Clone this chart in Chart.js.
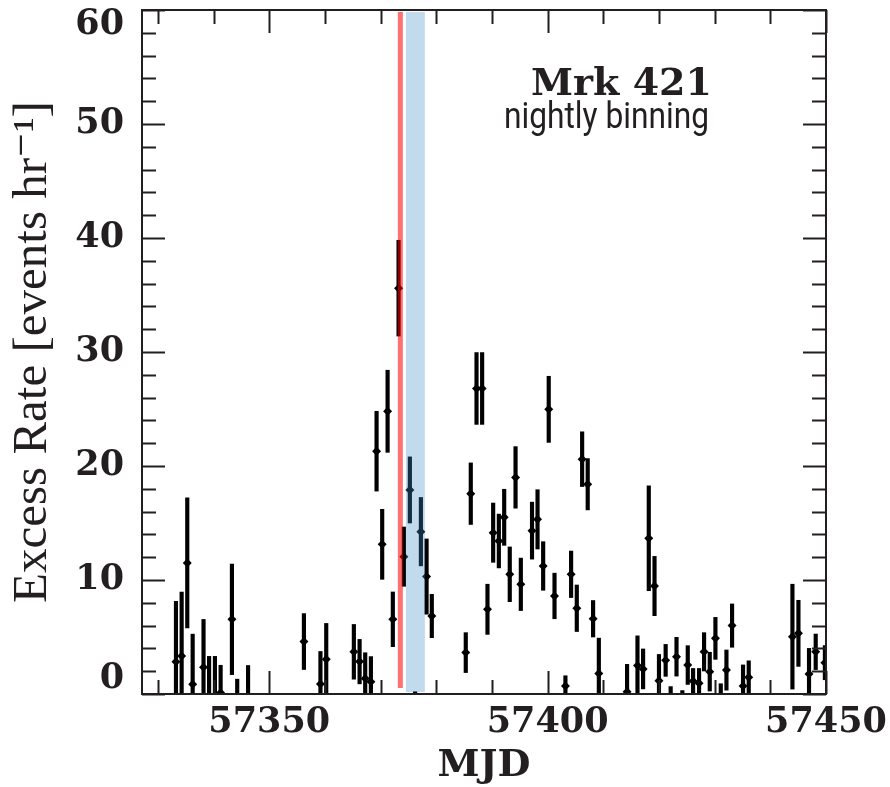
<!DOCTYPE html>
<html>
<head>
<meta charset="utf-8">
<script src="https://cdn.jsdelivr.net/npm/chart.js@4.4.1/dist/chart.umd.min.js"></script>
<style>
  html, body { margin: 0; padding: 0; background: #fff; }
  canvas { display: block; }
</style>
</head>
<body>
<canvas id="lc" width="890" height="787"></canvas>
<script>
// Nightly light curve values
const mjd = [
  57333.25, 57334.27, 57335.28, 57336.25, 57338.2, 57339.2, 57340.25, 57341.27, 57343.3, 57344.25,
  57346.2, 57356.23, 57359.2, 57360.24, 57365.2, 57366.23, 57367.24, 57368.26, 57369.28, 57370.29,
  57371.26, 57372.2, 57373.23, 57374.18, 57375.26, 57376.2, 57377.24, 57378.26, 57379.2, 57385.3,
  57386.2, 57387.23, 57388.24, 57389.2, 57390.22, 57391.24, 57392.2, 57393.2, 57394.24, 57395.19,
  57397.2, 57398.19, 57399.2, 57400.2, 57401.24, 57403.2, 57404.22, 57405.24, 57406.2, 57407.2,
  57408.17, 57409.2, 57414.27, 57416.14, 57417.15, 57418.17, 57419.2, 57420.0, 57421.2, 57422.1,
  57423.15, 57424.2, 57425.17, 57426.13, 57427.2, 57428.1, 57429.12, 57430.14, 57431.1, 57432.12,
  57433.13, 57435.1, 57436.12, 57443.97, 57445.05, 57446.95, 57448.15, 57449.8
];
const rate = [
  2.83, 3.33, 11.5, 0.85, 2.34, -1.0, -1.0, 0.12, 6.55, -1.5,
  -1.0, 4.6, 0.88, 3.04, 3.7, 2.84, 1.37, 1.08, 21.3, 13.13,
  24.8, 6.55, 35.6, 12.05, 17.9, -1.0, 14.24, 10.3, 6.84, 3.63,
  17.57, 26.8, 26.8, 7.43, 14.15, 13.42, 15.5, 10.5, 19.0, 9.62,
  14.33, 15.32, 11.23, 24.97, 8.6, 0.7, 10.5, 7.52, 20.6, 18.4,
  6.6, 1.8, 0.2, 2.5, 2.2, 13.66, 9.47, 1.17, 2.95, -0.8,
  3.27, -1.0, 2.54, 1.14, 0.94, 3.7, 1.96, 4.88, -0.5, 2.1,
  6.0, 0.7, 1.46, 5.03, 5.32, 1.75, 3.7, 2.75
];
const rateErr = [
  5.3, 5.6, 5.7, 4.4, 4.2, 4.3, 4.3, 2.4, 4.85, 2.8,
  3.5, 2.45, 2.85, 3.15, 2.4, 1.95, 2.25, 2.2, 3.5, 3.07,
  3.6, 2.4, 4.2, 2.6, 2.9, 1.2, 3.0, 3.3, 1.9, 1.75,
  2.7, 3.15, 3.15, 2.2, 2.6, 2.36, 2.46, 2.4, 2.7, 2.3,
  2.5, 2.6, 2.13, 2.9, 2.0, 0.9, 2.04, 2.04, 2.4, 2.25,
  1.6, 3.1, 2.4, 2.6, 1.75, 4.6, 2.6, 2.3, 1.4, 1.45,
  1.7, 1.3, 1.7, 1.1, 1.3, 1.68, 1.7, 1.84, 1.4, 1.76,
  1.9, 1.85, 1.45, 4.6, 2.9, 2.25, 1.56, 1.5
];

const xTickValues = [57350, 57400, 57450];
const yTickValues = [0, 10, 20, 30, 40, 50, 60];
const xRange = [57327.15, 57450];
const yRange = [0, 60];

// flare night (red) and follow-up window (blue)
const flareMjd = 57373.55;
const windowMjd = [57374.55, 57377.95];

const sourceLabel = 'Mrk 421';
const binLabel = 'nightly binning';

const ink = '#231f20';
const serif = "'DejaVu Serif', 'Liberation Serif', serif";
const romanSerif = "'Liberation Serif', 'DejaVu Serif', serif";

const points = mjd.map((m, i) => ({ x: m, y: rate[i] }));
const errBars = mjd.map((m, i) => ({ x: m, y: [rate[i] - rateErr[i], rate[i] + rateErr[i]] }));

// Frame, inward ticks, highlight bands and the text box
const decorations = {
  id: 'decorations',
  afterDatasetsDraw(chart) {
    const { ctx, scales: { x, y } } = chart;
    ctx.save();
    // blue window
    const bx0 = x.getPixelForValue(windowMjd[0]);
    const bx1 = x.getPixelForValue(windowMjd[1]);
    const bTop = y.getPixelForValue(59.82);
    const bBot = y.getPixelForValue(0.18);
    ctx.fillStyle = 'rgba(62,140,203,0.32)';
    ctx.fillRect(bx0, bTop, bx1 - bx0, bBot - bTop);
    // red flare line
    const rx = x.getPixelForValue(flareMjd);
    ctx.strokeStyle = 'rgba(255,0,0,0.56)';
    ctx.lineWidth = 5;
    ctx.beginPath();
    ctx.moveTo(rx, y.getPixelForValue(59.82));
    ctx.lineTo(rx, y.getPixelForValue(0.53));
    ctx.stroke();
    ctx.restore();
  },
  afterDraw(chart) {
    const { ctx, chartArea: a, scales: { x, y } } = chart;
    ctx.save();
    ctx.strokeStyle = ink;
    ctx.lineWidth = 2;
    ctx.strokeRect(a.left, a.top, a.right - a.left, a.bottom - a.top);

    ctx.beginPath();
    for (let v = Math.ceil(xRange[0] / 10) * 10; v <= xRange[1]; v += 10) {
      const px = Math.round(x.getPixelForValue(v)) + 0.5;
      const len = v % 50 === 0 ? 23 : 14;
      ctx.moveTo(px, a.bottom); ctx.lineTo(px, a.bottom - len);
      ctx.moveTo(px, a.top); ctx.lineTo(px, a.top + len);
    }
    for (let v = yRange[0]; v <= yRange[1]; v += 2) {
      const py = Math.round(y.getPixelForValue(v)) + 0.5;
      const len = v % 10 === 0 ? 23 : 14;
      ctx.moveTo(a.left, py); ctx.lineTo(a.left + len, py);
      ctx.moveTo(a.right, py); ctx.lineTo(a.right - len, py);
    }
    ctx.stroke();

    // source name + binning note
    ctx.fillStyle = ink;
    ctx.textAlign = 'right';
    ctx.textBaseline = 'alphabetic';
    ctx.font = 'bold 38px ' + serif;
    ctx.fillText(sourceLabel, 712, 95);

    ctx.font = "36px Roboto, 'Liberation Sans Narrow', 'Liberation Sans', sans-serif";
    const w = ctx.measureText(binLabel).width;
    const sx = Math.min(1, 205 / w);
    ctx.translate(709, 128);
    ctx.scale(sx, 1);
    ctx.fillText(binLabel, 0, 0);
    ctx.restore();
  }
};

new Chart(document.getElementById('lc'), {
  type: 'scatter',
  data: {
    datasets: [
      {
        type: 'bar',
        data: errBars,
        backgroundColor: '#000',
        borderWidth: 0,
        barThickness: 3.5,
        clip: 0,
        order: 2
      },
      {
        type: 'scatter',
        data: points,
        pointStyle: 'rectRot',
        pointRadius: 4.5,
        borderWidth: 0,
        backgroundColor: '#000',
        clip: 0,
        order: 1
      }
    ]
  },
  options: {
    responsive: false,
    animation: false,
    layout: { padding: { left: 0, right: 64, top: 10, bottom: 0 } },
    plugins: {
      legend: { display: false },
      tooltip: { enabled: false }
    },
    scales: {
      x: {
        type: 'linear',
        min: xRange[0],
        max: xRange[1],
        offset: false,
        afterBuildTicks: s => { s.ticks = xTickValues.map(v => ({ value: v })); },
        afterFit: s => { s.height = 93; s.paddingLeft = 0; s.paddingRight = 0; },
        grid: { display: false, drawTicks: false },
        border: { display: false },
        ticks: {
          padding: 8,
          color: ink,
          maxRotation: 0,
          autoSkip: false,
          font: { family: serif, weight: 'bold', size: 35 },
          callback: v => String(v)
        },
        title: {
          display: true,
          text: 'MJD',
          color: ink,
          font: { family: serif, weight: 'bold', size: 38, lineHeight: 1 },
          padding: { top: 0, bottom: 2 }
        }
      },
      y: {
        type: 'linear',
        min: yRange[0],
        max: yRange[1],
        afterBuildTicks: s => { s.ticks = yTickValues.map(v => ({ value: v })); },
        afterFit: s => { s.width = 142; s.paddingTop = 0; s.paddingBottom = 0; },
        grid: { display: false, drawTicks: false },
        border: { display: false },
        ticks: {
          padding: 18,
          color: ink,
          font: { family: serif, weight: 'bold', size: 35, lineHeight: 0.85 },
          // end labels sit inside the frame corners
          callback: v => v === yRange[1] ? ['', String(v)] : (v === yRange[0] ? [String(v), ''] : String(v))
        },
        title: {
          display: true,
          text: 'Excess Rate [events hr⁻¹]',
          color: ink,
          font: { family: romanSerif, weight: 'normal', size: 49, lineHeight: 1 },
          padding: { top: 9, bottom: 0 }
        }
      }
    }
  },
  plugins: [decorations]
});
</script>
</body>
</html>
